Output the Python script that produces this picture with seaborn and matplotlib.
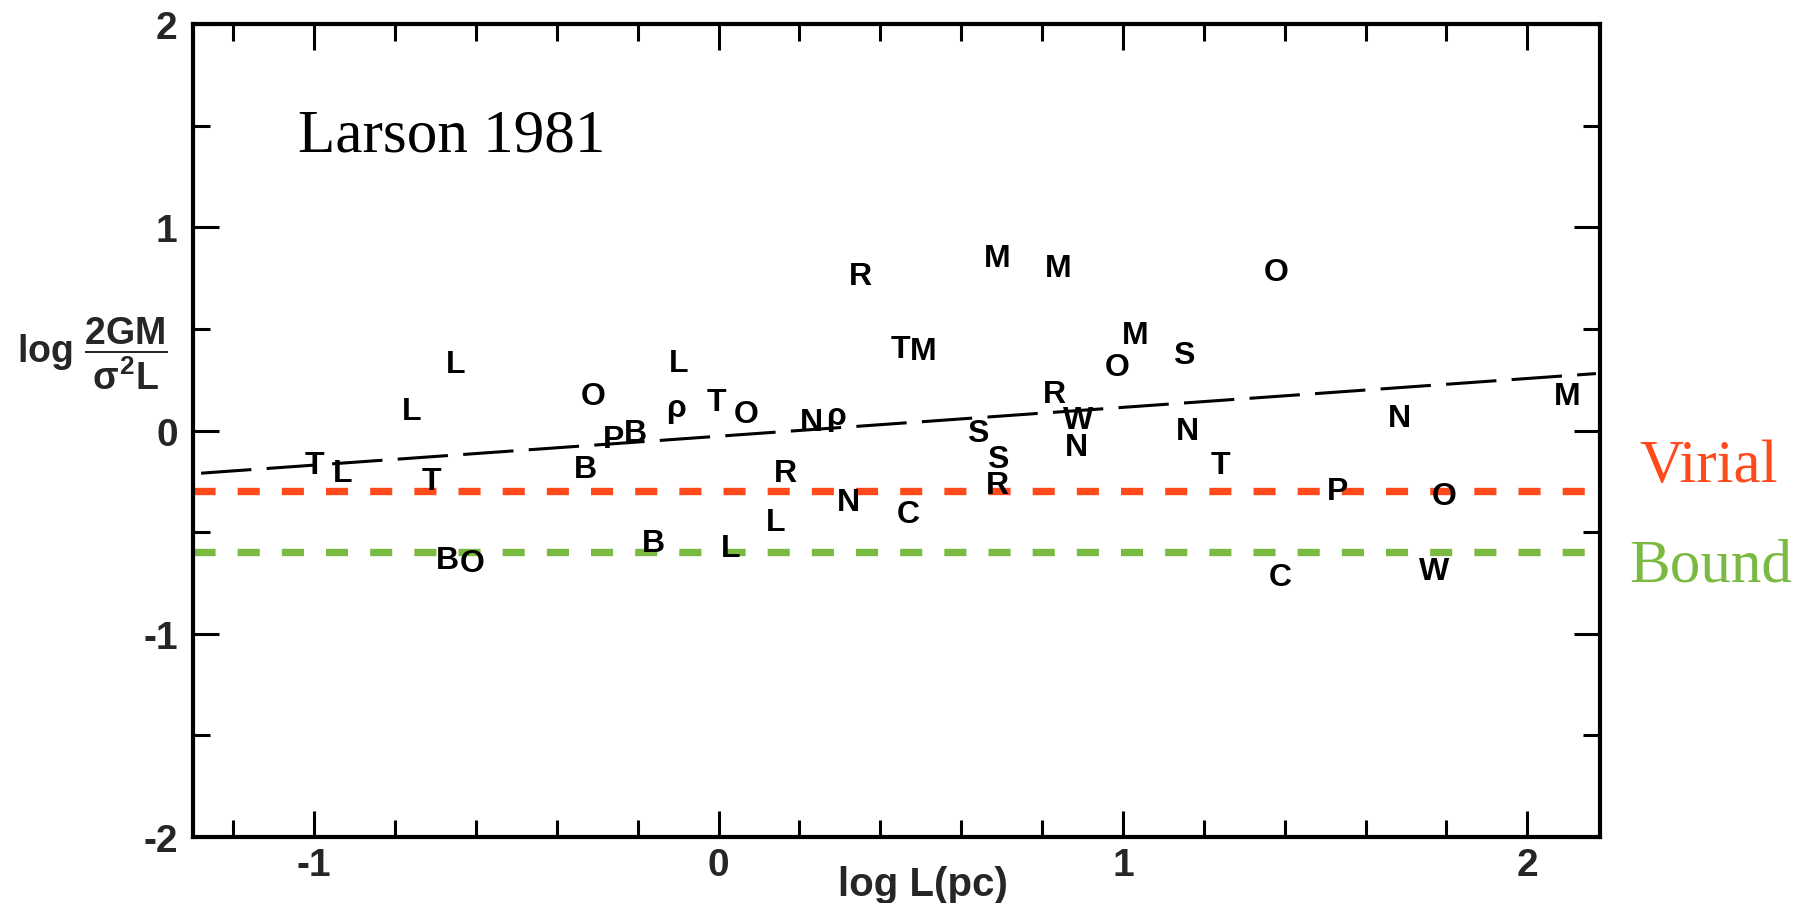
import matplotlib
matplotlib.use("Agg")
import matplotlib.pyplot as plt
import seaborn as sns
import pandas as pd
from matplotlib.ticker import MultipleLocator

# ---- data ----
labels = ['T', 'L', 'L', 'L', 'T', 'B', 'O', 'O', 'B', 'P', 'B', 'L', 'ρ', 'T', 'O',
          'B', 'L', 'N', 'ρ', 'R', 'L', 'N', 'C', 'R', 'T', 'M', 'M', 'M', 'S', 'S',
          'R', 'R', 'W', 'N', 'O', 'M', 'S', 'N', 'T', 'O', 'C', 'P', 'N', 'O', 'W', 'M']
log_L = [-1.00, -0.93, -0.76, -0.65, -0.71, -0.67, -0.61, -0.31, -0.33, -0.26, -0.205,
         -0.10, -0.105, -0.005, 0.067, -0.16, 0.03, 0.23, 0.29, 0.166, 0.14, 0.32, 0.47,
         0.35, 0.45, 0.505, 0.69, 0.84, 0.64, 0.69, 0.69, 0.83, 0.89, 0.886, 0.985, 1.03,
         1.15, 1.16, 1.24, 1.38, 1.39, 1.53, 1.685, 1.795, 1.77, 2.10]
log_ratio = [-0.17, -0.21, 0.095, 0.325, -0.25, -0.635, -0.65, 0.17, -0.19, -0.04, -0.01,
             0.33, 0.11, 0.14, 0.08, -0.555, -0.58, 0.04, 0.07, -0.21, -0.45, -0.35, -0.41,
             0.76, 0.40, 0.39, 0.85, 0.80, -0.01, -0.14, -0.27, 0.18, 0.05, -0.08, 0.31, 0.47,
             0.37, 0.0, -0.17, 0.78, -0.72, -0.30, 0.06, -0.32, -0.69, 0.17]

fit_x = [-1.28, 2.17]
fit_y = [-0.21, 0.28]

virial_level = -0.30
bound_level = -0.60

x_ticks = [-1, 0, 1, 2]
x_ticklabels = ['-1', '0', '1', '2']
y_ticks = [-2, -1, 0, 1, 2]
y_ticklabels = ['-2', '-1', '0', '1', '2']

# ---- style ----
sns.set_theme(style="ticks")
plt.rcParams['font.family'] = ['Liberation Sans', 'DejaVu Sans']
plt.rcParams['mathtext.fontset'] = 'custom'
plt.rcParams['mathtext.rm'] = 'Liberation Sans:bold'
plt.rcParams['mathtext.it'] = 'Liberation Sans:bold'
plt.rcParams['mathtext.bf'] = 'Liberation Sans:bold'

W, H = 1812, 904
fig = plt.figure(figsize=(W / 100, H / 100), dpi=100)
ax = fig.add_axes([193 / W, 1 - 838 / H, (1600 - 193) / W, (838 - 25) / H])

RED = '#FF4A1C'
GREEN = '#7AB942'

df_fit = pd.DataFrame({'x': fit_x, 'y': fit_y})
sns.lineplot(data=df_fit, x='x', y='y', ax=ax, color='black', lw=2.2,
             estimator=None)
ax.lines[-1].set_dashes((16.5, 5))

ax.axhline(virial_level, color=RED, lw=5.3, dashes=(3.0, 3.0))
ax.axhline(bound_level, color=GREEN, lw=5.3, dashes=(3.0, 3.0))

for lab, xv, yv in zip(labels, log_L, log_ratio):
    ax.text(xv, yv, lab, ha='center', va='center', fontsize=23, fontweight='bold',
            color='black')

ax.set_xlim(-1.30, 2.18)
ax.set_ylim(-2, 2)
ax.set_xticks(x_ticks)
ax.set_xticklabels(x_ticklabels)
ax.set_yticks(y_ticks)
ax.set_yticklabels(y_ticklabels)
ax.xaxis.set_minor_locator(MultipleLocator(0.2))
ax.yaxis.set_minor_locator(MultipleLocator(0.5))
ax.tick_params(which='both', direction='in', top=True, right=True, width=2.2,
               color='black', labelsize=28)
ax.tick_params(axis='x', which='major', pad=7)
ax.tick_params(axis='y', which='major', pad=11)
ax.tick_params(which='major', length=19)
ax.tick_params(which='minor', length=12)
for t in ax.get_xticklabels() + ax.get_yticklabels():
    t.set_fontweight('bold')
for s in ax.spines.values():
    s.set_linewidth(3)
    s.set_color('black')

ax.set_xlabel('log L(pc)', fontsize=29, fontweight='bold')
ax.xaxis.set_label_coords(0.519, -0.034)
ax.set_ylabel('')

fig.text(92 / W, 1 - 354 / H, r'$\mathrm{log}\ \dfrac{2GM}{\sigma^{2}L}$',
         ha='center', va='center', fontsize=27)

ax.text(0.0747, 0.844, 'Larson 1981', transform=ax.transAxes, ha='left',
        va='baseline', fontsize=44, family='Liberation Serif', color='black')
fig.text(1639 / W, 1 - 482 / H, 'Virial', ha='left', va='baseline', fontsize=44,
         family='Liberation Serif', color=RED)
fig.text(1629 / W, 1 - 582 / H, 'Bound', ha='left', va='baseline', fontsize=44,
         family='Liberation Serif', color=GREEN)

fig.savefig('out.png', dpi=100, facecolor='white')
